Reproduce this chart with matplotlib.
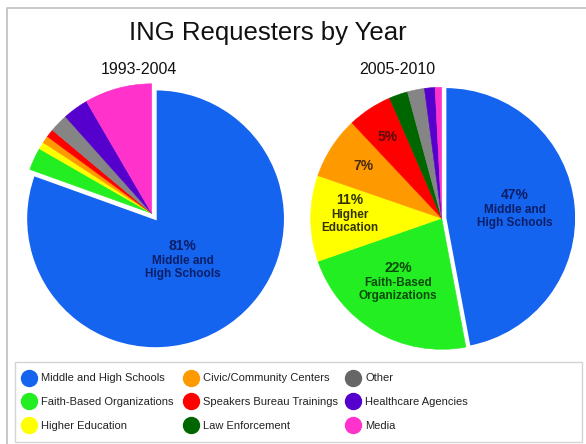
import matplotlib
matplotlib.use("Agg")
import matplotlib.pyplot as plt
import matplotlib.transforms as mtransforms
from matplotlib.lines import Line2D
from matplotlib.patches import Rectangle
import numpy as np

plt.rcParams['font.family'] = ['Liberation Sans', 'DejaVu Sans']

# ---------------- data ----------------
categories = ["Middle and High Schools", "Faith-Based Organizations", "Higher Education",
              "Civic/Community Centers", "Speakers Bureau Trainings", "Law Enforcement",
              "Other", "Healthcare Agencies", "Media"]
colors = ["#1464f0", "#22ee22", "#ffff00", "#ff9900", "#ff0000", "#006600",
          "#858585", "#5500cc", "#ff33cc"]
text_colors = ["#0c1f66", "#0b4a0b", "#333300", "#4a2a08", "#5a0a0a"]

title = "ING Requesters by Year"
periods = ["1993-2004", "2005-2010"]
values_1993_2004 = [80.5, 2.8, 0.9, 0.9, 1.0, 0.0, 2.3, 3.2, 8.4]
values_2005_2010 = [47.0, 22.6, 10.6, 7.7, 5.5, 2.3, 2.1, 1.3, 0.8]
pct_labels_1993_2004 = ["81%"]
pct_labels_2005_2010 = ["47%", "22%", "11%", "7%", "5%"]
desc_labels_1993_2004 = ["Middle and\nHigh Schools"]
desc_labels_2005_2010 = ["Middle and\nHigh Schools", "Faith-Based\nOrganizations",
                         "Higher\nEducation", "", ""]

# ---------------- layout ----------------
W, H, DPI = 586, 444, 100
fig = plt.figure(figsize=(W / DPI, H / DPI), dpi=DPI)
fig.patch.set_facecolor("white")

def px_axes(cx, cy, r, pad=1.2):
    s = 2 * r * pad
    return fig.add_axes([(cx - s / 2) / W, (H - cy - s / 2) / H, s / W, s / H])

pies = [
    dict(vals=values_1993_2004, pcts=pct_labels_1993_2004, descs=desc_labels_1993_2004,
         cx=151.7, cy=213.3, r=129.5, explode0=0.052,
         lab_dist=[0.44], lab_dang=[-2.4]),
    dict(vals=values_2005_2010, pcts=pct_labels_2005_2010, descs=desc_labels_2005_2010,
         cx=441.7, cy=218.3, r=131.0, explode0=0.027,
         lab_dist=[0.563, 0.596, 0.70, 0.72, 0.745], lab_dang=[1.0, -4.0, -2.0, -0.8, 0.0]),
]

for p in pies:
    ax = px_axes(p["cx"], p["cy"], p["r"])
    vals = p["vals"]
    explode = [p["explode0"]] + [0] * (len(vals) - 1)
    wedges, _ = ax.pie(vals, colors=colors, startangle=90, counterclock=False,
                       explode=explode, radius=1.0,
                       wedgeprops=dict(linewidth=0.4))
    for w, v, c in zip(wedges, vals, colors):
        w.set_edgecolor(c)
        if v == 0:
            w.set_visible(False)
    wedges[0].set_edgecolor("white")
    wedges[0].set_linewidth(1.6)
    wedges[0].set_zorder(3)
    ax.set_xlim(-1.2, 1.2)
    ax.set_ylim(-1.2, 1.2)
    ax.set_aspect("auto")
    ax.axis("off")

    for i, (pct, desc) in enumerate(zip(p["pcts"], p["descs"])):
        w = wedges[i]
        ang = np.deg2rad((w.theta1 + w.theta2) / 2 + p["lab_dang"][i])
        d = p["lab_dist"][i]
        x, y = d * np.cos(ang), d * np.sin(ang)
        if desc:
            t_up = mtransforms.offset_copy(ax.transData, fig=fig, x=0, y=15, units="dots")
            t_dn = mtransforms.offset_copy(ax.transData, fig=fig, x=0, y=-6.5, units="dots")
            ax.text(x, y, pct, transform=t_up, ha="center", va="center",
                    fontsize=10, fontweight="bold", color=text_colors[i])
            ax.text(x, y, desc, transform=t_dn, ha="center", va="center",
                    fontsize=8.5, fontweight="bold", color=text_colors[i],
                    linespacing=1.15)
        else:
            ax.text(x, y, pct, ha="center", va="center",
                    fontsize=10, fontweight="bold", color=text_colors[i])

# titles
fig.text(268 / W, 1 - 33 / H, title, ha="center", va="center", fontsize=18.5, color="#111111")
fig.text(138.5 / W, 1 - 70 / H, periods[0], ha="center", va="center", fontsize=11.5, color="#111111")
fig.text(397 / W, 1 - 70 / H, periods[1], ha="center", va="center", fontsize=11.5, color="#111111")

# outer frame (top and left edges visible)
fig.add_artist(Line2D([7 / W, 7 / W, 1.0], [0.0, 1 - 8 / H, 1 - 8 / H],
                      transform=fig.transFigure, color="#c8c8c8", linewidth=1.4))

# legend box
fig.add_artist(Rectangle((15 / W, 1 - 442 / H), (582 - 15) / W, (442 - 362) / H,
                         transform=fig.transFigure, facecolor="white",
                         edgecolor="#d4d4d4", linewidth=1.0))

legend_colors = colors[:6] + ["#666666"] + colors[7:]
col_x = [29, 191, 353]
row_y = [378, 402, 426]
for col in range(3):
    handles = []
    for row in range(3):
        k = col * 3 + row
        handles.append(Line2D([], [], marker="o", linestyle="none", markersize=11.5,
                              markerfacecolor=legend_colors[k], markeredgecolor=legend_colors[k],
                              label=categories[k]))
    fig.legend(handles=handles, loc="center left",
               bbox_to_anchor=((col_x[col] - 7.7) / W, 1 - row_y[1] / H),
               frameon=False, fontsize=8, handlelength=1.4, handletextpad=0.4,
               labelspacing=1.22, borderpad=0, borderaxespad=0, labelcolor="#222222")

fig.savefig("out.png", dpi=DPI, facecolor="white")
